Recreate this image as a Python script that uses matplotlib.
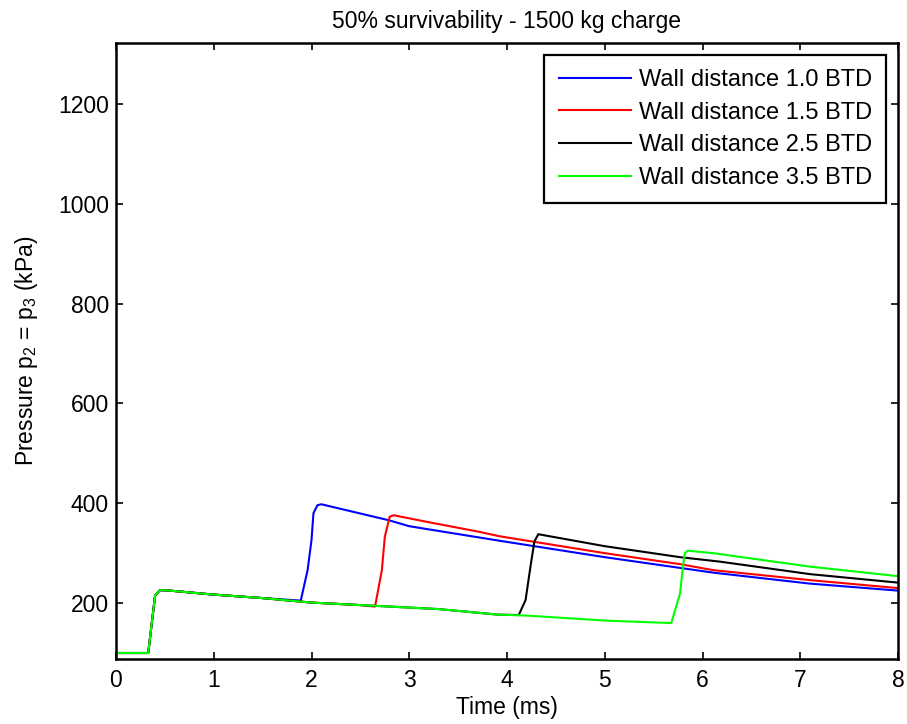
"""Reflected pressure behind the wall for four wall distances (1500 kg charge)."""

import matplotlib
matplotlib.use("Agg")
import matplotlib.pyplot as plt

plt.rcParams["font.family"] = ["Liberation Sans", "DejaVu Sans"]
plt.rcParams["mathtext.fontset"] = "custom"
plt.rcParams["mathtext.rm"] = "Liberation Sans"
plt.rcParams["mathtext.it"] = "Liberation Sans"

# common incident-wave part (before the reflected shock arrives)
t_pre = [0.0, 0.33, 0.36, 0.40, 0.45, 0.55, 1.0, 1.5, 2.0, 2.5, 2.8, 3.3, 3.9, 4.2, 4.6, 5.0, 5.4, 5.68]
p_pre = [100, 100, 150, 215, 226, 225, 217, 210, 201, 196, 193, 188, 177, 175, 170, 165, 162, 160]

# reflected part for each wall distance
t_blue = [1.89, 1.96, 2.00, 2.02, 2.06, 2.10, 2.79, 3.00, 3.92, 5.00, 6.11, 7.10, 8.0]
p_blue = [205, 266, 326, 380, 396, 398, 366, 354, 325, 292, 261, 239, 225]

t_red = [2.65, 2.72, 2.75, 2.80, 2.84, 3.20, 3.71, 3.92, 5.00, 5.77, 6.11, 7.10, 8.0]
p_red = [193, 266, 333, 373, 376, 362, 343, 334, 300, 278, 266, 246, 230]

t_black = [4.12, 4.19, 4.24, 4.28, 4.32, 5.00, 5.77, 6.18, 7.10, 8.0]
p_black = [176, 206, 273, 323, 338, 314, 292, 283, 258, 241]

t_green = [5.68, 5.77, 5.80, 5.82, 5.85, 6.11, 7.10, 8.0]
p_green = [160, 219, 273, 300, 305, 300, 273, 254]

labels = ["Wall distance 1.0 BTD", "Wall distance 1.5 BTD",
          "Wall distance 2.5 BTD", "Wall distance 3.5 BTD"]
colors = ["#0000ff", "#ff0000", "#000000", "#00ff00"]


def full_series(t_ref, p_ref):
    """Incident part up to the arrival time, then the reflected part."""
    t = [x for x in t_pre if x < t_ref[0]]
    p = p_pre[:len(t)]
    return t + t_ref, p + p_ref


fig = plt.figure(figsize=(9.07, 7.24), dpi=100)
ax = fig.add_axes([116 / 907, 65 / 724, 782 / 907, 616 / 724])

series = [(t_blue, p_blue), (t_red, p_red), (t_black, p_black), (t_green, p_green)]
for (t_ref, p_ref), color, label in zip(series, colors, labels):
    t, p = full_series(t_ref, p_ref)
    ax.plot(t, p, color=color, linewidth=1.5, label=label)

ax.set_xlim(0, 8)
ax.set_ylim(88, 1322)
ax.set_xticks(range(0, 9))
ax.set_yticks(range(200, 1201, 200))
ax.tick_params(direction="in", top=True, right=True, length=5, width=1.2,
               labelsize=16.5)
ax.tick_params(axis="x", pad=7)
ax.tick_params(axis="y", pad=5)
for spine in ax.spines.values():
    spine.set_linewidth(1.8)

ax.set_xlabel("Time (ms)", fontsize=16.5, labelpad=3)
ax.set_ylabel("Pressure p$_2$ = p$_3$ (kPa)", fontsize=16.5, labelpad=13)
ax.set_title("50% survivability - 1500 kg charge", fontsize=16.5, pad=11)

leg = ax.legend(loc="upper right", fontsize=17, handlelength=3.05, borderpad=0.6,
                labelspacing=0.45, handletextpad=0.35, borderaxespad=0.5,
                fancybox=False, framealpha=1)
leg.get_frame().set_edgecolor("black")
leg.get_frame().set_linewidth(1.6)

fig.savefig("out.png", dpi=100)
